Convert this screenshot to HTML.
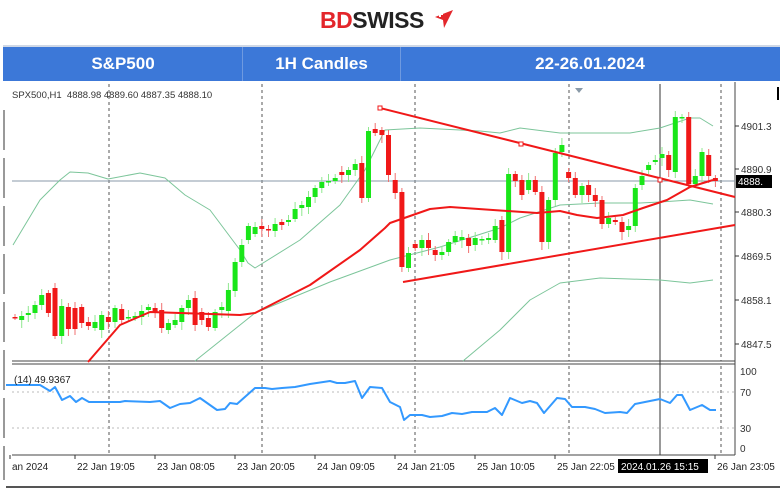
<!DOCTYPE html>
<html><head><meta charset="utf-8"><style>
html,body{margin:0;padding:0;background:#fff;width:780px;height:495px;overflow:hidden;font-family:"Liberation Sans",sans-serif}
.hdr{position:absolute;left:3px;top:45px;width:777px;height:34px;background:#3c78d8;border-top:2px solid #cfd8e6}
.hdr div{position:absolute;top:0;height:34px;line-height:34px;color:#fff;font-weight:bold;font-size:17px;text-align:center}
.sep{position:absolute;top:0;width:1px;height:34px;background:#6f9ae0}
</style></head><body>
<div style="position:absolute;left:320px;top:7px;font-size:23px;font-weight:bold;letter-spacing:-0.5px"><span style="color:#e3262b">BD</span><span style="color:#222">SWISS</span></div>
<svg style="position:absolute;left:433px;top:9px" width="22" height="20"><polygon points="2,8 20,1 11,19 10,11" fill="#e3262b"/><rect x="4" y="4" width="6" height="2" fill="#fff"/><rect x="6" y="2" width="2" height="6" fill="#fff"/></svg>
<div class="hdr">
<div style="left:0;width:240px">S&amp;P500</div>
<div class="sep" style="left:239px"></div>
<div style="left:240px;width:157px">1H Candles</div>
<div class="sep" style="left:397px"></div>
<div style="left:397px;width:380px">22-26.01.2024</div>
</div>
<svg id="c" style="position:absolute;left:0;top:0" width="780" height="495"></svg>
<script>
var s='';
function L(x1,y1,x2,y2,c,w,d){s+='<line x1="'+x1+'" y1="'+y1+'" x2="'+x2+'" y2="'+y2+'" stroke="'+c+'" stroke-width="'+(w||1)+'"'+(d?' stroke-dasharray="'+d+'"':'')+'/>';}
function P(pts,c,w){s+='<polyline fill="none" stroke="'+c+'" stroke-width="'+w+'" stroke-linejoin="round" points="'+pts.map(function(p){return p.join(',')}).join(' ')+'"/>';}
function T(x,y,t,sz,c,a){s+='<text x="'+x+'" y="'+y+'" font-size="'+(sz||10)+'" fill="'+(c||'#222')+'"'+(a?' text-anchor="'+a+'"':'')+' font-family="Liberation Sans, sans-serif">'+t+'</text>';}
L(735,82,735,455,'#444',1);L(12,361,735,361,'#444',1);L(12,364,735,364,'#444',1);L(12,455,735,455,'#444',1);
L(4,110,4,480,'#333',1,'40 8');L(6,487,780,487,'#555',2);L(778,87,778,100,'#000',2);
[109,262,415,569,721].forEach(function(x){L(x,84,x,361,'#555',1,'3 3');L(x,366,x,455,'#555',1,'3 3');});
L(660,84,660,455,'#333',1);
L(12,181,735,181,'#8a9aa8',1);
L(12,392,735,392,'#bbb',1,'2 3');L(12,428,735,428,'#bbb',1,'2 3');
P([[13,245],[40,200],[60,180],[70,172],[88,173],[108,179],[140,173],[165,178],[185,195],[210,210],[225,230],[240,250],[248,263],[255,268],[300,240],[340,205],[365,170],[385,130],[420,128],[480,131],[500,133],[520,128],[560,133],[630,133],[660,128],[690,118],[700,118],[713,126]],'#7cc59a',1);
P([[195,361],[255,313],[330,282],[390,260],[440,247],[500,228],[520,218],[560,205],[600,203],[640,203],[660,202],[690,200],[713,204]],'#7cc59a',1);
P([[463,361],[500,330],[530,300],[560,283],[600,278],[660,280],[690,283],[713,280]],'#7cc59a',1);
var d=[[317,317],[320,316],[315,313],[313,305],[305,295],[293,313],[288,336],[336,306],[307,329],[308,329],[307,323],[322,326],[328,322],[330,315],[317,322],[322,308],[309,320],[318,317],[318,316],[317,311],[310,307],[308,312],[310,328],[330,323],[325,320],[322,308],[308,300],[298,325],[312,320],[318,327],[328,312],[310,307],[311,290],[291,262],[262,245],[240,226],[234,227],[226,229],[229,230],[231,224],[222,225],[222,220],[219,209],[208,205],[207,197],[197,188],[188,182],[182,181],[181,178],[172,175],[175,170],[170,164],[163,198],[198,131],[129,133],[130,135],[135,175],[180,193],
[192,267],[268,253],[244,248],[248,240],[240,248],[250,255],[255,252],[252,242],[242,236],[240,237],[238,246],[245,238],[240,239],[240,238],[240,226],[220,252],[252,174],[174,181],[180,195],[190,180],[180,192],[192,242],[242,200],[200,153],[152,145],[172,178],[178,195],[195,186],[185,195],[195,201],[200,224],[224,218],[220,222],[222,232],[230,226],[226,188],[185,176],[170,165],[162,160],[158,154],[155,170],[172,117],[118,117],[117,184],[184,176],[176,152],[155,176],[178,181]];
d.forEach(function(c,i){var x=15+i*6.67,o=c[0],cl=c[1],up=cl<o,col=up?'#19e619':'#f01818';var t=Math.min(o,cl),b=Math.max(o,cl);var hw=3+((i*7)%5),lw=3+((i*11)%6);
L(x.toFixed(1),t-hw,x.toFixed(1),b+lw,up?'#8fe88f':'#f07070',1);s+='<rect x="'+(x-2.5).toFixed(1)+'" y="'+t+'" width="5" height="'+Math.max(1.5,b-t)+'" fill="'+col+'"/>';});
P([[88,362],[120,325],[150,312],[240,315],[255,313],[310,285],[360,250],[385,228],[390,223],[430,209],[450,207],[493,210],[537,213],[560,211],[577,215],[597,218],[623,215],[643,208],[667,200],[690,187],[713,180]],'#f01818',2);
L(380,108,735,197,'#f01818',2);L(403,282,735,225,'#f01818',2);
s+='<rect x="378" y="106" width="4" height="4" fill="#fff" stroke="#f01818"/>';
s+='<rect x="519" y="142" width="4" height="4" fill="#fff" stroke="#f01818"/><rect x="658" y="178" width="4" height="4" fill="#fff" stroke="#f01818"/>';
s+='<polygon points="575,88 583,88 579,93" fill="#8a9aa8"/>';
var r=[[6,385],[40,385],[50,391],[55,387],[62,400],[70,396],[76,402],[82,398],[89,402],[105,402],[120,402],[125,401],[150,402],[160,401],[170,408],[180,404],[190,403],[200,398],[217,410],[225,409],[230,403],[237,404],[255,388],[265,388],[272,389],[282,388],[295,387],[310,384],[330,381],[337,383],[345,383],[355,381],[362,398],[370,387],[382,388],[390,402],[400,407],[404,420],[410,415],[422,415],[430,417],[442,416],[452,413],[462,414],[472,412],[487,412],[495,408],[502,415],[510,398],[522,403],[530,401],[537,403],[544,413],[557,398],[565,399],[572,407],[585,407],[595,409],[605,413],[620,412],[627,413],[635,404],[645,402],[660,399],[670,403],[677,395],[682,395],[690,410],[702,405],[710,410],[716,410]];
P(r,'#3399ff',2);
T(14,383,'(14) 49.9367',10,'#222');
[['100',375],['70',396],['30',432],['0',452]].forEach(function(a){T(740,a[1],a[0],10,'#333');});
[['4901.3',130],['4890.9',173],['4880.3',216],['4869.5',260],['4858.1',304],['4847.5',348]].forEach(function(a){L(735,a[1]-4,739,a[1]-4,'#333');T(741,a[1],a[0],10,'#333');});
s+='<rect x="736" y="175" width="36" height="13" fill="#000"/>';T(738,185,'4888.',10,'#fff');
T(12,98,'SPX500,H1&#160; 4888.98 4889.60 4887.35 4888.10',9.5,'#333');
[['an 2024',12],['22 Jan 19:05',77],['23 Jan 08:05',157],['23 Jan 20:05',237],['24 Jan 09:05',317],['24 Jan 21:05',397],['25 Jan 10:05',477],['25 Jan 22:05',557],['26 Jan 23:05',717]].forEach(function(a){L(a[1]-2,455,a[1]-2,459,'#333');T(a[1],470,a[0],10,'#222');});
s+='<rect x="618" y="459" width="90" height="14" fill="#000"/>';T(621,470,'2024.01.26 15:15',10,'#fff');
document.getElementById('c').innerHTML=s;
</script>
</body></html>
